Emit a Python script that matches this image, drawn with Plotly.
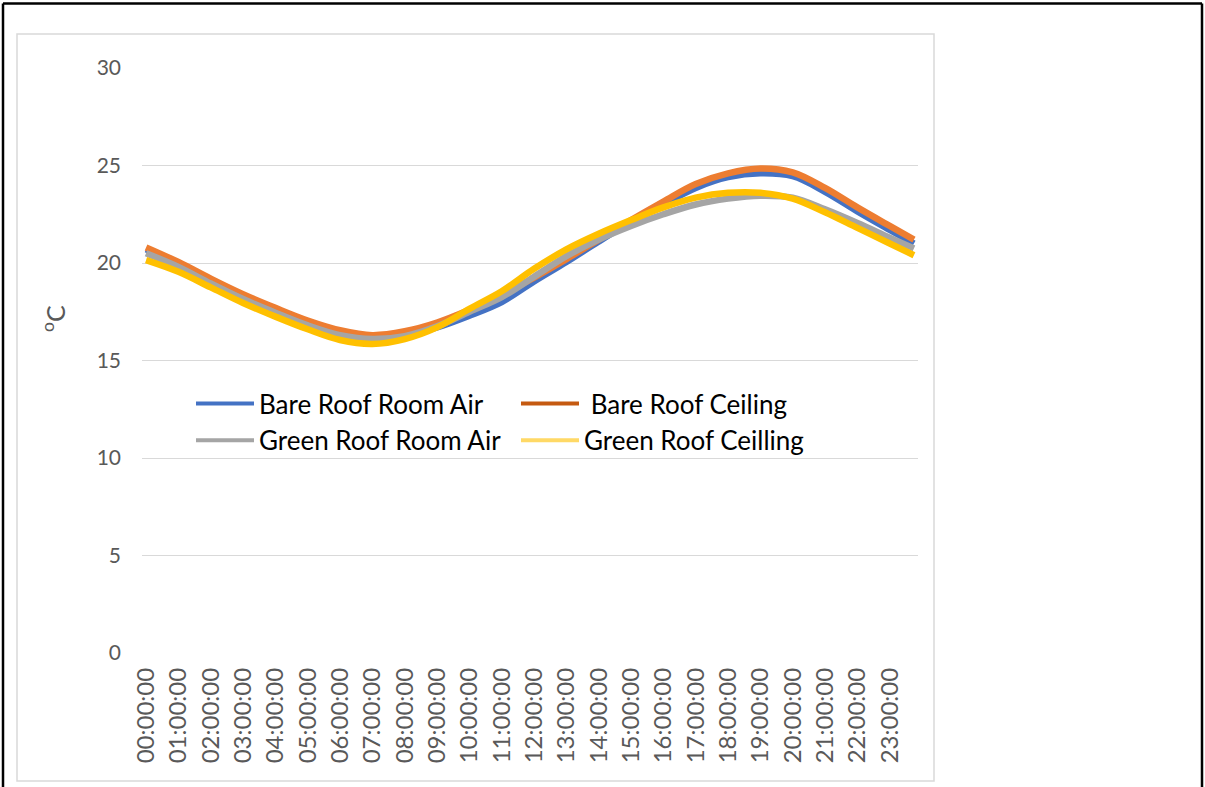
import plotly.graph_objects as go

# ---- data (hours of day; last point at 23:45) ----
hours = [0, 1, 2, 3, 4, 5, 6, 7, 8, 9, 10, 11, 12, 13, 14, 15, 16, 17, 18, 19, 20, 21, 22, 23, 23.75]
tick_hours = list(range(24))
tick_labels = [f"{h:02d}:00:00" for h in tick_hours]

bare_room_air = [20.7, 19.95, 19.1, 18.3, 17.6, 16.95, 16.4, 16.2, 16.3, 16.7, 17.3, 18.0, 19.05,
                 20.05, 21.1, 22.1, 23.0, 23.85, 24.4, 24.6, 24.45, 23.65, 22.65, 21.7, 21.0]
bare_ceiling = [20.8, 20.05, 19.2, 18.4, 17.7, 17.05, 16.55, 16.3, 16.5, 16.95, 17.6, 18.35, 19.25,
                20.2, 21.2, 22.2, 23.15, 24.05, 24.6, 24.85, 24.65, 23.85, 22.85, 21.9, 21.2]
green_room_air = [20.5, 19.8, 18.95, 18.15, 17.45, 16.8, 16.3, 16.1, 16.25, 16.75, 17.5, 18.25, 19.3,
                  20.35, 21.2, 21.9, 22.5, 23.0, 23.3, 23.45, 23.35, 22.75, 22.05, 21.3, 20.75]
green_ceiling = [20.15, 19.55, 18.75, 17.95, 17.25, 16.6, 16.05, 15.85, 16.1, 16.7, 17.65, 18.55, 19.7,
                 20.7, 21.5, 22.2, 22.85, 23.35, 23.6, 23.6, 23.3, 22.6, 21.8, 21.0, 20.4]

series_names = ["Bare Roof Room Air", "\u00a0Bare Roof Ceiling", "Green Roof Room Air", "Green Roof Ceilling"]
series_values = [bare_room_air, bare_ceiling, green_room_air, green_ceiling]
line_colors = ["#4472C4", "#ED7D31", "#A5A5A5", "#FFC000"]
legend_colors = ["#4472C4", "#C55A11", "#A5A5A5", "#FFD966"]

y_ticks = [0, 5, 10, 15, 20, 25, 30]

fig = go.Figure()
for name, vals, col in zip(series_names, series_values, line_colors):
    fig.add_trace(go.Scatter(x=hours, y=vals, mode="lines", name=name, showlegend=False,
                             line=dict(color=col, width=6.5, shape="spline", smoothing=1.0)))
for name, col in zip(series_names, legend_colors):
    fig.add_trace(go.Scatter(x=[None], y=[None], mode="lines", name=name, showlegend=True,
                             line=dict(color=col, width=4)))

W, H = 1205, 787
L, R, T, B = 142, 918, 68, 653
pw, ph = R - L, B - T

def px(x):
    return (x - L) / pw

def py(y):
    return (B - y) / ph

fig.update_layout(
    width=W, height=H,
    margin=dict(l=L, r=W - R, t=T, b=H - B),
    paper_bgcolor="white", plot_bgcolor="white",
    font=dict(family="Lato", color="#595959"),
    showlegend=True,
    legend=dict(orientation="h", x=px(191), y=py(380), xanchor="left", yanchor="top",
                bgcolor="rgba(0,0,0,0)", borderwidth=0, entrywidth=252, itemwidth=58,
                font=dict(family="Lato", size=26, color="#000000"), tracegroupgap=0,
                traceorder="normal"),
    xaxis=dict(range=[-0.125, 23.875], tickmode="array", tickvals=tick_hours, ticktext=tick_labels,
               tickangle=-90, showgrid=False, zeroline=False, showline=False, ticks="",
               tickfont=dict(family="Lato", size=24, color="#595959"), ticklabelstandoff=9),
    yaxis=dict(range=[0, 30], tickmode="array", tickvals=y_ticks, showgrid=True,
               gridcolor="#D9D9D9", gridwidth=1.3, zeroline=False, showline=False, ticks="",
               tickfont=dict(family="Lato", size=21, color="#595959"), ticklabelstandoff=20),
    shapes=[
        dict(type="rect", xref="paper", yref="paper", x0=px(17), x1=px(934), y0=py(781), y1=py(34),
             line=dict(color="#D9D9D9", width=1.5), fillcolor="rgba(0,0,0,0)", layer="below"),
        dict(type="line", xref="paper", yref="paper", x0=px(3), x1=px(1202), y0=py(3.5), y1=py(3.5),
             line=dict(color="black", width=2.5)),
        dict(type="line", xref="paper", yref="paper", x0=px(3), x1=px(3), y0=py(3.5), y1=py(800),
             line=dict(color="black", width=2.5)),
        dict(type="line", xref="paper", yref="paper", x0=px(1202), x1=px(1202), y0=py(3.5), y1=py(800),
             line=dict(color="black", width=2.5)),
    ],
    annotations=[
        dict(text="<sup>o</sup>C", xref="paper", yref="paper", x=px(53), y=py(319), showarrow=False,
             textangle=-90, font=dict(family="Lato", size=25, color="#595959"),
             xanchor="center", yanchor="middle"),
    ],
)

fig.write_html("out.html", config={"displayModeBar": False},
               post_script="document.body.style.margin='0';document.body.style.overflow='hidden';")
